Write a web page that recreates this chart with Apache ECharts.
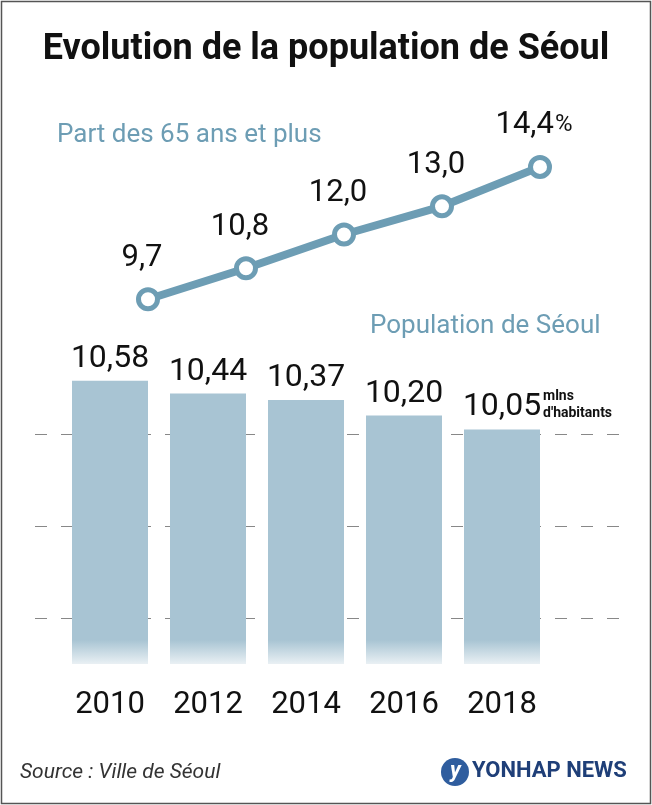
<!DOCTYPE html>
<html lang="fr">
<head>
<meta charset="UTF-8" />
<script src="https://cdn.jsdelivr.net/npm/echarts@6/dist/echarts.min.js"></script>
<style>
    body { margin: 0; padding: 0; background: #fff; }
    #chart { width: 652px; height: 805px; }
</style>
</head>
<body>
<div id="chart"></div>
<script>
    const years = ['2010', '2012', '2014', '2016', '2018'];
    const population = [10.58, 10.44, 10.37, 10.20, 10.05];
    const elderShare = [9.7, 10.8, 12.0, 13.0, 14.4];

    const font = '"Liberation Sans Narrow", "Roboto", sans-serif';
    const blue = '#6d9db4';
    const barBlue = '#a8c4d3';
    const comma = (v, d) => v.toFixed(d).replace('.', ',');

    let myChart = echarts.init(document.getElementById('chart'));
    let option = {
        animation: false,
        backgroundColor: '#fff',
        graphic: [
            { type: 'rect', shape: { x: 1.5, y: 1.5, width: 649, height: 802 },
              style: { fill: 'none', stroke: '#555', lineWidth: 1.5 } },
            { type: 'text', left: 'center', top: 32,
              style: { text: 'Evolution de la population de Séoul', font: 'bold 36px ' + font, fill: '#111' } },
            { type: 'text', left: 57, top: 122,
              style: { text: 'Part des 65 ans et plus', font: '26px ' + font, fill: blue } },
            { type: 'text', left: 370, top: 313,
              style: { text: 'Population de Séoul', font: '26px ' + font, fill: blue } },
            { type: 'text', left: 543, top: 388,
              style: { text: 'mlns\nd\'habitants', font: 'bold 14px ' + font, fill: '#111', lineHeight: 17 } },
            { type: 'text', left: 20, top: 762,
              style: { text: 'Source : Ville de Séoul', font: 'italic 21px ' + font, fill: '#333' } },
            { type: 'circle', shape: { cx: 455, cy: 772, r: 14 }, style: { fill: '#2f5d9e' } },
            { type: 'text', left: 450, top: 760,
              style: { text: 'y', font: 'italic bold 22px ' + font, fill: '#fff' } },
            { type: 'text', left: 472, top: 760,
              style: { text: 'YONHAP NEWS', font: 'bold 22px ' + font, fill: '#1f3f78' } }
        ],
        grid: [
            { left: 61, width: 490, top: 342, height: 322 },
            { left: 35, width: 585, top: 434, height: 184 },
            { left: 99, width: 490, top: 150, height: 169 }
        ],
        xAxis: [
            { gridIndex: 0, type: 'category', data: years,
              axisLine: { show: false }, axisTick: { show: false },
              axisLabel: { margin: 26, fontSize: 31, color: '#111', fontFamily: font } },
            { gridIndex: 1, type: 'value', show: false },
            { gridIndex: 2, type: 'category', data: years, show: false }
        ],
        yAxis: [
            { gridIndex: 0, type: 'value', min: 7.5, max: 11, show: false },
            { gridIndex: 1, type: 'value', min: 8, max: 10, interval: 1,
              axisLine: { show: false }, axisTick: { show: false }, axisLabel: { show: false },
              splitLine: { show: true, lineStyle: { color: '#888', type: [12, 14], width: 1 } } },
            { gridIndex: 2, type: 'value', min: 9, max: 15, show: false }
        ],
        series: [
            {
                type: 'bar', xAxisIndex: 0, yAxisIndex: 0, data: population, barWidth: 76, z: 3,
                itemStyle: {
                    color: new echarts.graphic.LinearGradient(0, 640, 0, 672, [
                        { offset: 0, color: barBlue }, { offset: 1, color: '#ffffff' }
                    ], true)
                },
                label: { show: true, position: 'top', distance: 6, fontSize: 32, color: '#111',
                         fontFamily: font, formatter: p => comma(p.value, 2) }
            },
            {
                type: 'line', xAxisIndex: 2, yAxisIndex: 2, data: elderShare, z: 5,
                lineStyle: { color: blue, width: 8 },
                symbol: 'circle', symbolSize: 19,
                itemStyle: { color: '#fff', borderColor: blue, borderWidth: 5 },
                label: {
                    show: true, position: 'top', distance: 14, offset: [-6, 0],
                    fontSize: 31, color: '#111', fontFamily: font,
                    formatter: p => p.dataIndex === elderShare.length - 1
                        ? comma(p.value, 1) + '{pct|%}' : comma(p.value, 1),
                    rich: { pct: { fontSize: 24, color: '#111', fontFamily: font, padding: [0, 0, 0, 1] } }
                }
            }
        ]
    };
    myChart.setOption(option);
</script>
</body>
</html>
